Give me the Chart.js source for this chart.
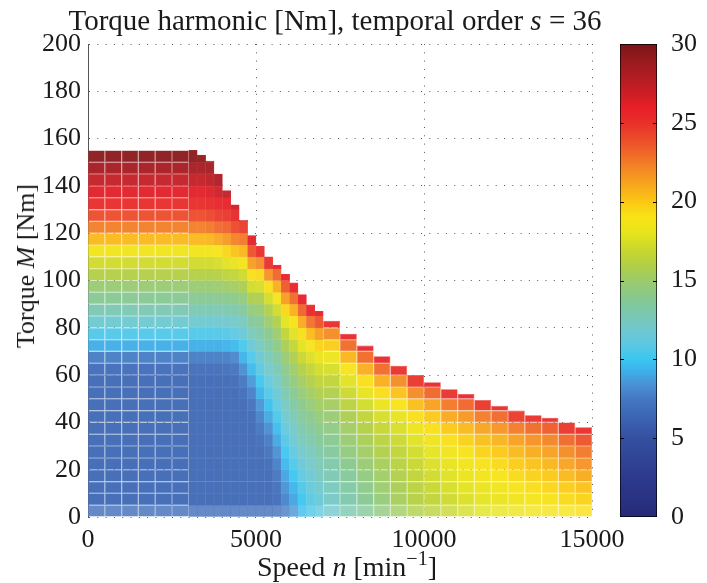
<!DOCTYPE html>
<html>
<head>
<meta charset="utf-8">
<script src="https://cdn.jsdelivr.net/npm/chart.js@4.4.0/dist/chart.umd.min.js"></script>
<style>
  body { margin: 0; background: #fff; }
  #fig { position: relative; width: 707px; height: 583px; font-family: 'Liberation Serif', 'Times New Roman', serif; color: #1a1a1a; overflow: hidden; }
  canvas { position: absolute; top: 0; }
  #heat { left: 0; }
  #cbar { left: 600px; }
  .lbl { position: absolute; white-space: nowrap; font-size: 26px; line-height: 1; }
  .lbl sup { font-size: 0.72em; line-height: 0; position: relative; top: -0.05em; }
  #title { left: 335px; top: 6px; transform: translateX(-50%); font-size: 29px; }
  #xlabel { left: 347px; top: 553px; transform: translateX(-50%); font-size: 28px; }
  #ylabel { left: 26px; top: 266px; transform: translate(-50%, -50%) rotate(-90deg); }
</style>
</head>
<body>
<div id="fig">
  <canvas id="heat" width="707" height="583"></canvas>
  <canvas id="cbar" width="107" height="583"></canvas>
  <div class="lbl" id="title">Torque harmonic [Nm], temporal order <i>s</i> = 36</div>
  <div class="lbl" id="xlabel">Speed <i>n</i> [min<sup>−1</sup>]</div>
  <div class="lbl" id="ylabel">Torque <i>M</i> [Nm]</div>
</div>
<script>
// ── data ─────────────────────────────────────────────────────────────────────

// torque row edges [Nm]
const rowEdges = [0, 5, 10, 15, 20, 25, 30, 35, 40, 45, 50, 55, 60, 65, 70, 75, 80,
  85, 90, 95, 100, 105, 110, 115, 120, 125, 130, 135, 140, 145, 150, 155];

// constant-torque region, values bottom -> top
const baseProfile = [6.8, 6.5, 6.5, 6.5, 6.5, 6.5, 6.5, 6.5, 6.5, 6.5, 6.5, 6.5,
  6.8, 7.6, 9.2, 10.6, 11.8, 12.8, 13.8, 14.8, 16, 17.2, 18.6, 20.5, 22.4, 24,
  25.3, 26.2, 27.2, 28.3, 29.4];

// 500 rpm columns: constant torque part and high speed part
const speedCoarse = [250, 750, 1250, 1750, 2250, 2750,
  7250, 7750, 8250, 8750, 9250, 9750, 10250, 10750, 11250, 11750,
  12250, 12750, 13250, 13750, 14250, 14750];
const torqueMaxCoarse = [155, 155, 155, 155, 155, 155,
  83, 77.5, 72.5, 68, 64, 60, 57, 54, 52, 49.5,
  47, 45, 43, 42, 40, 38];
const harmonicCoarse = [
  baseProfile, baseProfile, baseProfile, baseProfile, baseProfile, baseProfile,
  [11.9, 12.2, 12.5, 12.8, 13.1, 13.5, 13.9, 14.3, 14.8, 15.3, 15.9, 16.6, 17.4, 18.4, 19.8, 22, 25.2],
  [12.8, 13.0, 13.3, 13.6, 14.0, 14.4, 14.8, 15.2, 15.7, 16.3, 17, 17.8, 18.9, 20.6, 23, 25.5],
  [13.6, 13.8, 14.1, 14.4, 14.8, 15.2, 15.6, 16.0, 16.6, 17.3, 18.1, 19.2, 20.8, 23, 25.5],
  [14.4, 14.6, 14.9, 15.2, 15.5, 15.9, 16.3, 16.8, 17.4, 18.2, 19.3, 20.8, 23, 25.5],
  [15.2, 15.4, 15.6, 15.9, 16.2, 16.6, 17.0, 17.5, 18.1, 19, 20.2, 22, 25],
  [15.9, 16.1, 16.3, 16.6, 16.9, 17.3, 17.8, 18.4, 19.2, 20.3, 22, 24.8],
  [16.4, 16.6, 16.9, 17.2, 17.6, 18, 18.5, 19.2, 20, 21.3, 23.2, 25.5],
  [16.9, 17.1, 17.4, 17.7, 18.1, 18.6, 19.2, 20, 21, 22.6, 25],
  [17.4, 17.6, 17.9, 18.2, 18.6, 19.1, 19.7, 20.5, 21.6, 23.2, 25.5],
  [17.8, 18.0, 18.3, 18.7, 19.1, 19.6, 20.3, 21.2, 22.5, 24.8],
  [18.1, 18.3, 18.6, 19.0, 19.4, 20, 20.7, 21.7, 23.1, 25.3],
  [18.4, 18.6, 19.0, 19.4, 19.9, 20.5, 21.3, 22.5, 24.6],
  [18.6, 18.9, 19.3, 19.7, 20.2, 20.9, 21.8, 23, 25],
  [18.8, 19.1, 19.5, 20, 20.6, 21.3, 22.2, 23.5, 25.3],
  [19, 19.4, 19.9, 20.5, 21.2, 22, 23.1, 24.8],
  [19.2, 19.6, 20.2, 20.9, 21.7, 22.6, 23.8, 25.2],
];

// 250 rpm columns where the torque limit falls steeply
const speedFine = [3125, 3375, 3625, 3875, 4125, 4375, 4625, 4875,
  5125, 5375, 5625, 5875, 6125, 6375, 6625, 6875];
const torqueMaxFine = [155, 153, 150.5, 145, 138, 132, 125.4, 119,
  114.5, 110, 106.5, 102.6, 99, 94, 89.7, 87];
const harmonicFine = [
  baseProfile,
  [6.8, 6.5, 6.5, 6.5, 6.5, 6.5, 6.5, 6.5, 6.5, 6.5, 6.5, 6.5, 6.8, 7.6, 9.2, 10.6, 11.8, 12.8, 13.8, 14.8, 16, 17.2, 18.6, 20.5, 22.4, 24, 25.3, 26.2, 27.2, 28.3, 29.2],
  [6.8, 6.5, 6.5, 6.5, 6.5, 6.5, 6.5, 6.5, 6.5, 6.5, 6.5, 6.5, 6.8, 7.6, 9.2, 10.6, 11.8, 12.8, 13.8, 14.8, 16, 17.2, 18.6, 20.6, 22.6, 24.2, 25.5, 26.4, 27.4, 28.4, 29],
  [6.8, 6.5, 6.5, 6.5, 6.5, 6.5, 6.5, 6.5, 6.5, 6.5, 6.5, 6.5, 6.8, 7.6, 9.2, 10.6, 11.8, 12.8, 13.8, 14.9, 16.1, 17.4, 19, 21, 23, 24.6, 25.8, 26.8, 28],
  [6.8, 6.5, 6.5, 6.5, 6.5, 6.5, 6.5, 6.5, 6.5, 6.5, 6.5, 6.5, 6.9, 7.7, 9.3, 10.7, 11.9, 12.9, 14, 15.1, 16.4, 17.8, 19.5, 21.5, 23.3, 24.8, 25.9, 27.2],
  [6.8, 6.5, 6.5, 6.5, 6.5, 6.5, 6.5, 6.5, 6.5, 6.5, 6.5, 6.6, 7.0, 8.0, 9.6, 11.0, 12.1, 13.1, 14.2, 15.3, 16.7, 18.3, 20.2, 22.3, 24.1, 25.5, 26.8],
  [6.8, 6.5, 6.5, 6.5, 6.5, 6.5, 6.5, 6.5, 6.5, 6.5, 6.8, 7.3, 8.2, 9.3, 10.4, 11.5, 12.5, 13.5, 14.5, 15.7, 17.1, 18.7, 20.6, 22.6, 24.6, 26.5],
  [6.8, 6.5, 6.5, 6.5, 6.5, 6.5, 6.5, 6.5, 6.6, 7.0, 7.7, 8.6, 9.6, 10.6, 11.6, 12.6, 13.6, 14.6, 15.8, 17.3, 19.2, 21.4, 23.8, 26.2],
  [6.8, 6.5, 6.5, 6.5, 6.5, 6.6, 6.8, 7.2, 7.8, 8.5, 9.3, 10.1, 10.9, 11.6, 12.3, 13.0, 13.8, 14.7, 15.8, 17.4, 19.4, 22, 25.3],
  [6.8, 6.5, 6.5, 6.5, 6.7, 7.0, 7.5, 8.2, 9.0, 9.8, 10.6, 11.3, 12.0, 12.6, 13.3, 14.0, 14.9, 15.9, 17.3, 19.2, 21.8, 25],
  [6.9, 6.8, 6.9, 7.2, 7.7, 8.3, 9.0, 9.7, 10.4, 11.0, 11.6, 12.2, 12.8, 13.5, 14.2, 15.0, 16.0, 17.2, 18.8, 20.8, 23.2, 26],
  [7.6, 7.9, 8.4, 8.9, 9.5, 10.1, 10.7, 11.3, 11.8, 12.3, 12.9, 13.5, 14.1, 14.8, 15.6, 16.6, 17.9, 19.5, 21.4, 23.6, 26],
  [8.5, 8.9, 9.4, 10.0, 10.6, 11.2, 11.7, 12.2, 12.7, 13.2, 13.8, 14.4, 15.0, 15.8, 16.7, 17.8, 19.1, 20.8, 23, 25.8],
  [9.6, 10.0, 10.5, 11.0, 11.5, 12.0, 12.5, 13.0, 13.5, 14.0, 14.6, 15.3, 16.0, 16.9, 17.9, 19.2, 21, 23.3, 26],
  [10.5, 10.9, 11.3, 11.7, 12.1, 12.5, 13.0, 13.5, 14.0, 14.6, 15.2, 15.9, 16.7, 17.6, 18.8, 20.4, 22.8, 25.7],
  [11.2, 11.5, 11.9, 12.3, 12.7, 13.1, 13.6, 14.1, 14.6, 15.2, 15.8, 16.5, 17.3, 18.3, 19.6, 21.4, 23.8, 26],
];

// colour map
const cmapValues = [0, 2.5, 5, 6.5, 7.5, 8.5, 9.3, 10, 11, 12, 13, 14, 15, 16, 17, 18,
  19, 20, 21, 22, 23, 24, 25, 26, 27, 28, 29, 30];
const cmapColors = ['#262a78', '#2d3a8e', '#34509f', '#3d68b5', '#4479c2', '#4a94d6',
  '#3cb2ea', '#3ac6f0', '#5ec8e2', '#72c8cc', '#7cc8ac', '#88c88c', '#9ccb6a', '#b2cf44',
  '#cad82c', '#e6e41c', '#f8e416', '#fbc813', '#f8a81c', '#f48a24', '#f06a28', '#ec4a2a',
  '#e8302a', '#e81e28', '#c81e24', '#ae1c22', '#961a1e', '#7a1418'];

const speedTicks = [0, 5000, 10000, 15000];
const cbarTickValues = [5, 10, 15, 20, 25];

// ── helpers ──────────────────────────────────────────────────────────────────

const FONT = { family: "'Liberation Serif', 'Times New Roman', serif", size: 26 };
const INK = '#1a1a1a';

function rgbOf(hex) {
  return [1, 3, 5].map((i) => parseInt(hex.slice(i, i + 2), 16));
}

function colorAt(v) {
  const t = Math.max(0, Math.min(30, v));
  let i = 0;
  while (i < cmapValues.length - 2 && t > cmapValues[i + 1]) i++;
  const f = (t - cmapValues[i]) / (cmapValues[i + 1] - cmapValues[i]);
  const a = rgbOf(cmapColors[i]);
  const b = rgbOf(cmapColors[i + 1]);
  return a.map((c, k) => Math.round(c + (b[k] - c) * f));
}

function rgb(c) {
  return `rgb(${c[0]},${c[1]},${c[2]})`;
}

function lighten(c, f) {
  return c.map((x) => Math.round(x + (255 - x) * f));
}

function buildCells(speeds, maxima, grid) {
  const out = [];
  speeds.forEach((n, c) => {
    grid[c].forEach((v, r) => {
      const lo = rowEdges[r];
      if (lo >= maxima[c]) return;
      out.push({ x: n, y: [lo, Math.min(rowEdges[r + 1], maxima[c])], v });
    });
  });
  return out;
}

const cellStyle = {
  backgroundColor: (ctx) => {
    if (!ctx.raw) return null;
    const col = colorAt(ctx.raw.v);
    return rgb(ctx.raw.y[0] === 0 ? lighten(col, 0.2) : lighten(col, 0.05));
  },
  borderColor: (ctx) => (ctx.raw ? rgb(lighten(colorAt(ctx.raw.v), 0.12)) : null),
  borderWidth: 0.6,
  borderSkipped: false,
  grouped: false,
  categoryPercentage: 1,
};

// ── heat map ─────────────────────────────────────────────────────────────────

const gridStyle = {
  color: 'rgba(0,0,0,0.65)',
  lineWidth: 1,
  drawTicks: false,
};

new Chart(document.getElementById('heat'), {
  type: 'bar',
  data: {
    datasets: [
      { ...cellStyle, data: buildCells(speedCoarse, torqueMaxCoarse, harmonicCoarse), barPercentage: 2 },
      { ...cellStyle, data: buildCells(speedFine, torqueMaxFine, harmonicFine), barPercentage: 1 },
    ],
  },
  options: {
    responsive: false,
    animation: false,
    layout: { padding: { left: 0, right: 115, top: 44, bottom: 0 } },
    plugins: { legend: { display: false }, tooltip: { enabled: false } },
    scales: {
      x: {
        type: 'linear',
        min: 0,
        max: 15000,
        offset: false,
        grid: { ...gridStyle, offset: false },
        border: { display: false, dash: [1, 7.3] },
        afterBuildTicks: (s) => { s.ticks = speedTicks.map((value) => ({ value })); },
        ticks: { padding: 8, font: FONT, color: INK, maxRotation: 0, callback: (v) => String(v) },
        afterFit: (s) => { s.height = 66; },
      },
      y: {
        min: 0,
        max: 200,
        grid: gridStyle,
        border: { display: true, color: '#555', width: 1, dash: [1, 7.3] },
        ticks: { stepSize: 20, padding: 7, font: FONT, color: INK },
        afterFit: (s) => { s.width = 88; },
      },
    },
  },
});

// ── colour bar ───────────────────────────────────────────────────────────────

const cbarTicks = {
  id: 'cbarTicks',
  afterDatasetsDraw(chart) {
    const { ctx, chartArea: a, scales: { y } } = chart;
    ctx.save();
    ctx.strokeStyle = '#000';
    ctx.lineWidth = 1;
    cbarTickValues.forEach((v) => {
      const py = Math.round(y.getPixelForValue(v)) + 0.5;
      ctx.beginPath();
      ctx.moveTo(a.left, py);
      ctx.lineTo(a.left + 4, py);
      ctx.moveTo(a.right - 4, py);
      ctx.lineTo(a.right, py);
      ctx.stroke();
    });
    ctx.restore();
  },
};

new Chart(document.getElementById('cbar'), {
  type: 'bar',
  data: {
    labels: ['cb'],
    datasets: [{
      data: [[0, 30]],
      backgroundColor: (c) => {
        const ch = c.chart;
        if (!ch.chartArea) return '#888';
        const y = ch.scales.y;
        const g = ch.ctx.createLinearGradient(0, y.getPixelForValue(0), 0, y.getPixelForValue(30));
        cmapValues.forEach((v, i) => g.addColorStop(v / 30, cmapColors[i]));
        return g;
      },
      borderColor: '#000',
      borderWidth: 1,
      borderSkipped: false,
      barPercentage: 1,
      categoryPercentage: 1,
    }],
  },
  options: {
    responsive: false,
    animation: false,
    layout: { padding: { left: 20, right: 0, top: 44, bottom: 66 } },
    plugins: { legend: { display: false }, tooltip: { enabled: false } },
    scales: {
      x: { display: false },
      y: {
        position: 'right',
        min: 0,
        max: 30,
        grid: { display: false },
        border: { display: false },
        ticks: { stepSize: 5, padding: 6, font: FONT, color: INK },
        afterFit: (s) => { s.width = 50; },
      },
    },
  },
  plugins: [cbarTicks],
});
</script>
</body>
</html>
